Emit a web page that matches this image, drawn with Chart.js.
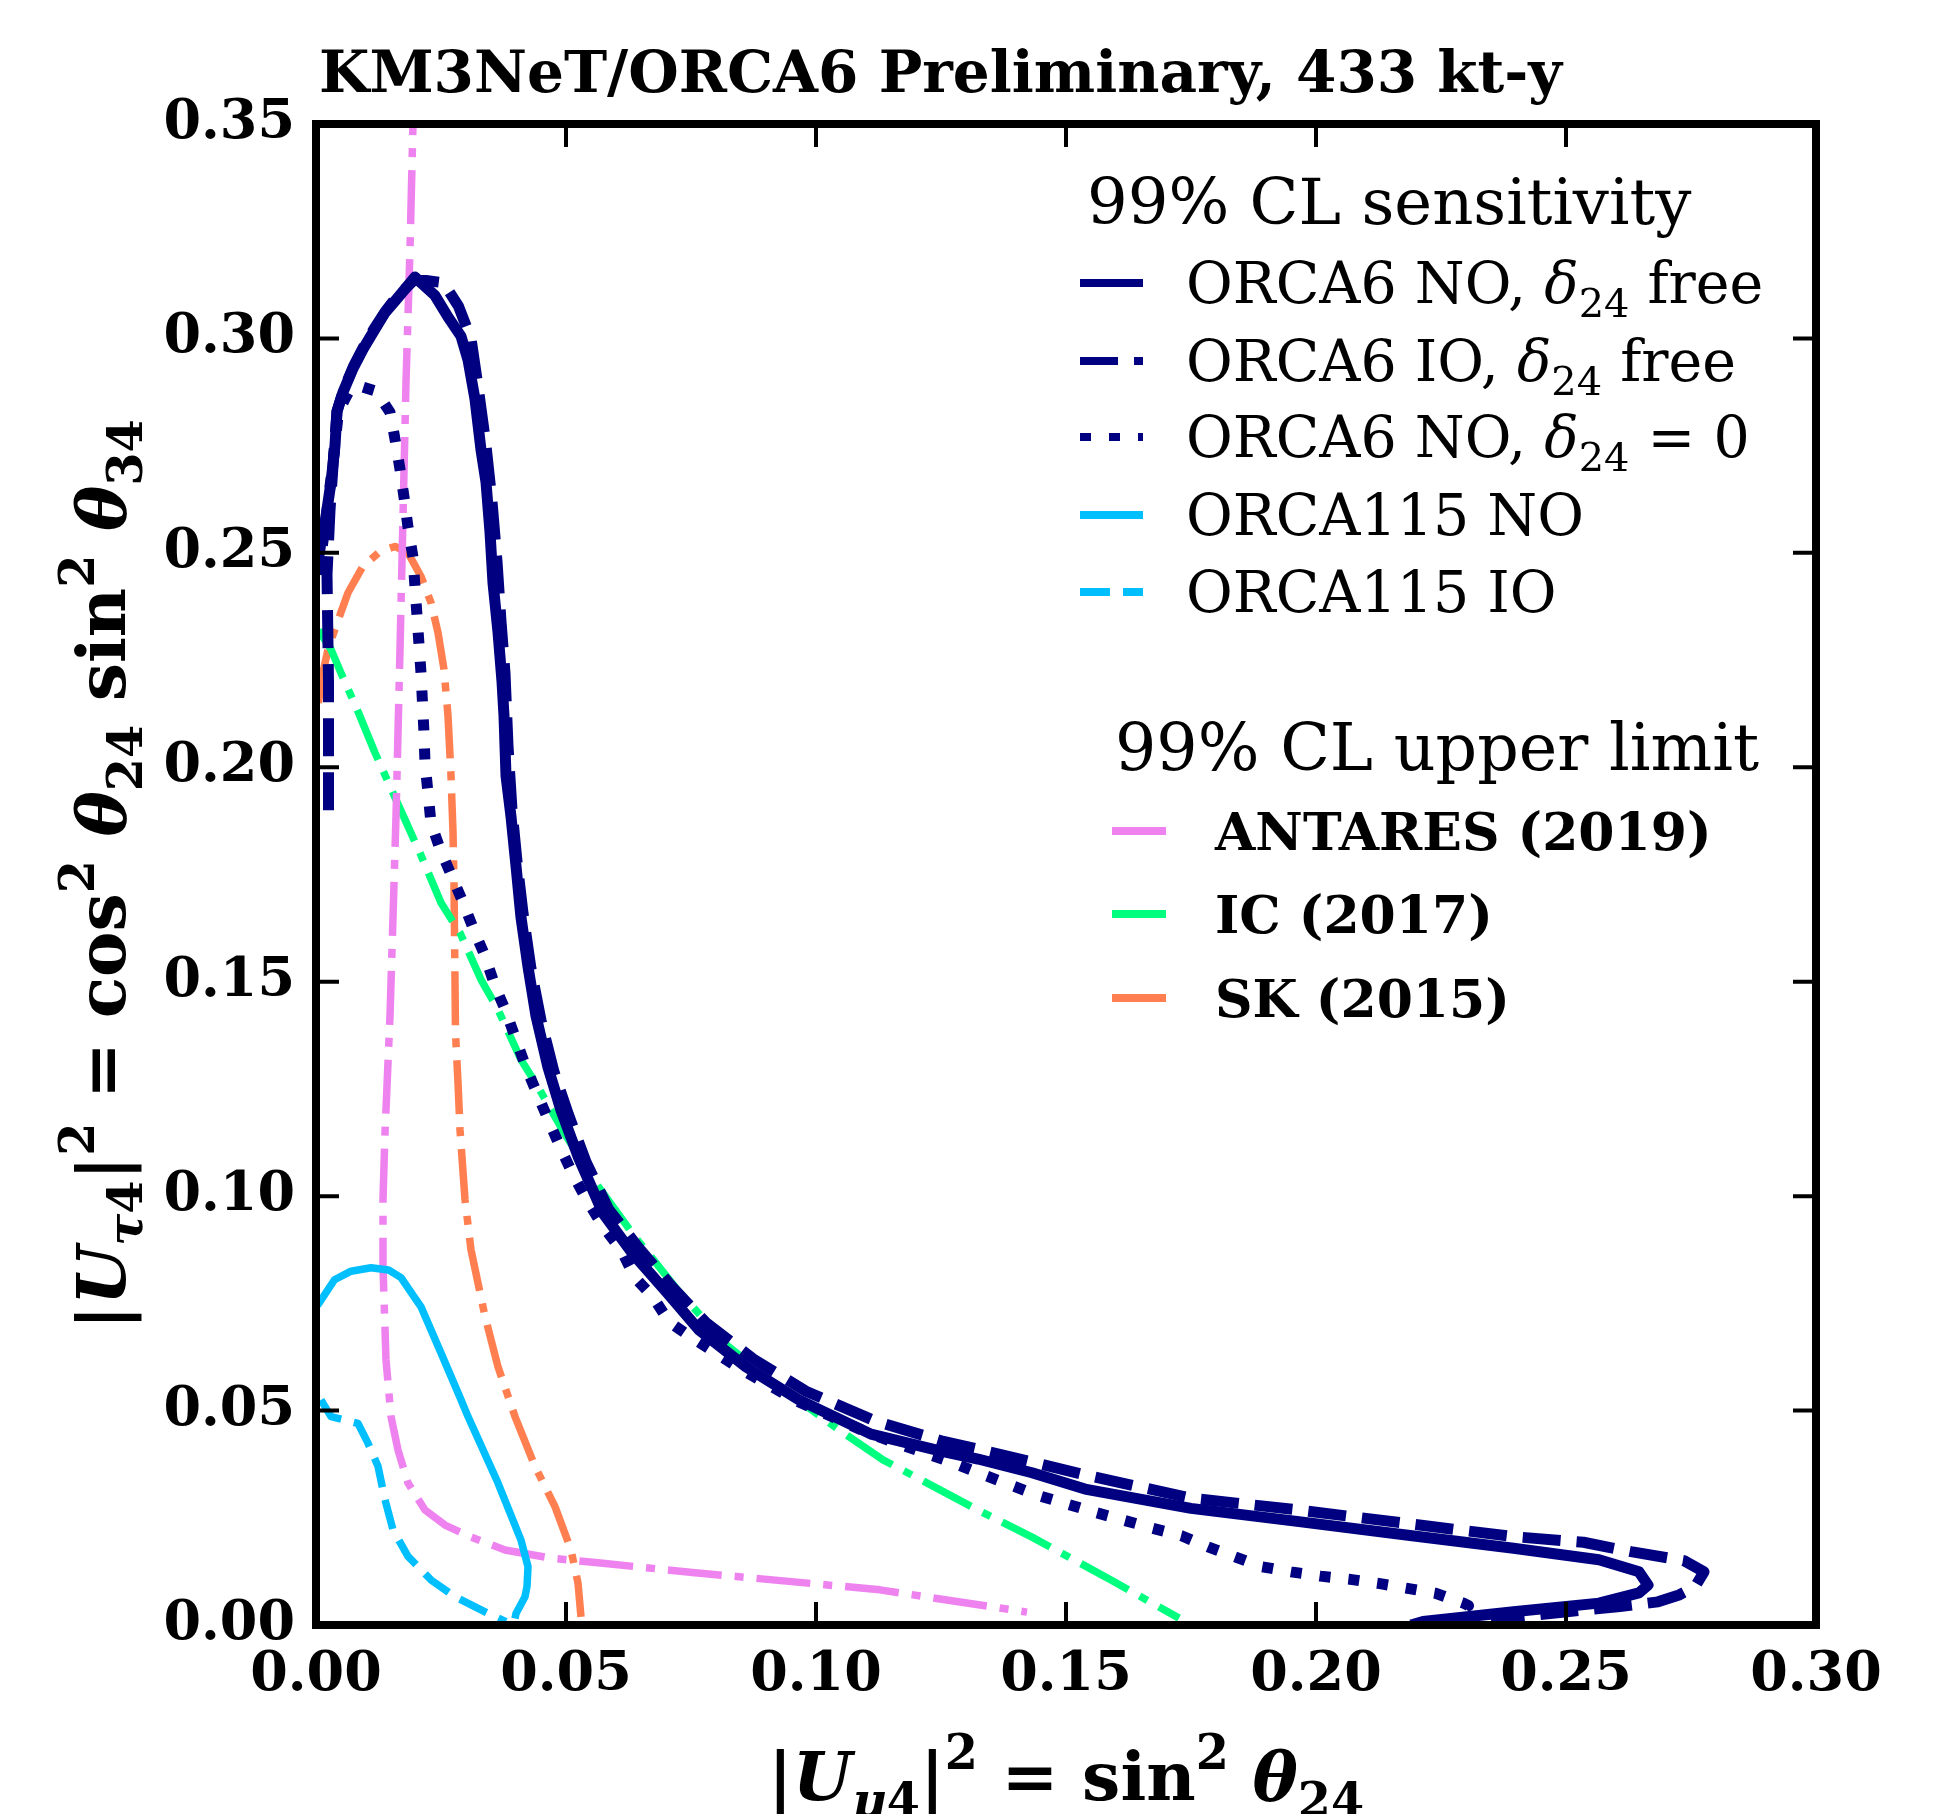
<!DOCTYPE html>
<html>
<head>
<meta charset="utf-8">
<script src="https://cdn.jsdelivr.net/npm/chart.js@4.4.1/dist/chart.umd.min.js"></script>
<style>
  html, body { margin: 0; padding: 0; background: #fff; }
  canvas { display: block; }
</style>
</head>
<body>
<canvas id="chart" width="1951" height="1814"></canvas>
<script>
// values, x = |U_mu4|^2, y = |U_tau4|^2
const orca6NoX = [0.0000,0.0010,0.0020,0.0030,0.0038,0.0042,0.0054,0.0074,0.0094,0.0114,0.0138,0.0160,0.0198,0.0210,0.0238,0.0264,0.0290,0.0304,0.0318,0.0330,0.0340,0.0348,0.0354,0.0364,0.0372,0.0376,0.0380,0.0390,0.0400,0.0410,0.0424,0.0440,0.0464,0.0490,0.0525,0.0574,0.0632,0.0702,0.0766,0.0860,0.0966,0.1110,0.1252,0.1324,0.1432,0.1538,0.1750,0.1966,0.2180,0.2395,0.2566,0.2646,0.2664,0.2646,0.2566,0.2395,0.2214,0.2190];
const orca6NoY = [0.245,0.2525,0.2585,0.2665,0.275,0.283,0.2875,0.293,0.2975,0.3014,0.306,0.309,0.3143,0.313,0.310,0.305,0.3005,0.295,0.2858,0.274,0.2665,0.2548,0.243,0.2315,0.220,0.212,0.198,0.1885,0.177,0.165,0.1535,0.142,0.130,0.120,0.109,0.096,0.0868,0.0775,0.0688,0.0602,0.0525,0.0445,0.0405,0.0387,0.0355,0.0317,0.0272,0.0241,0.021,0.0179,0.0152,0.0124,0.0093,0.0075,0.0051,0.0031,0.0008,0.0];

const orca6IoX = [0.0025,0.0025,0.0022,0.0028,0.0035,0.0042,0.0055,0.0075,0.0095,0.0115,0.0140,0.0160,0.0195,0.0220,0.0255,0.0285,0.0310,0.0325,0.0340,0.0352,0.0362,0.0370,0.0378,0.0384,0.0392,0.0402,0.0414,0.0430,0.0450,0.0476,0.0505,0.0540,0.0585,0.0645,0.0715,0.0780,0.0875,0.0980,0.1120,0.1255,0.1324,0.1432,0.1538,0.1750,0.1966,0.2180,0.2395,0.2535,0.2630,0.2736,0.2776,0.2758,0.2726,0.2684,0.2608,0.2502,0.2350];
const orca6IoY = [0.190,0.220,0.245,0.260,0.272,0.283,0.288,0.2935,0.298,0.302,0.3065,0.3095,0.3135,0.3135,0.313,0.3075,0.300,0.288,0.275,0.262,0.248,0.234,0.222,0.205,0.190,0.178,0.166,0.153,0.141,0.129,0.119,0.108,0.097,0.088,0.0785,0.0705,0.062,0.0545,0.0475,0.0428,0.041,0.038,0.035,0.0296,0.0268,0.0237,0.0206,0.0193,0.0171,0.015,0.0124,0.0089,0.007,0.0054,0.0043,0.0031,0.0012];

const orca6NoZeroX = [0.0005,0.0020,0.0035,0.0045,0.0065,0.0084,0.0120,0.0148,0.0158,0.0168,0.0176,0.0184,0.0194,0.0198,0.0204,0.0210,0.0216,0.0218,0.0224,0.0230,0.0248,0.0270,0.0294,0.0316,0.0338,0.0358,0.0380,0.0400,0.0420,0.0442,0.0466,0.0490,0.0514,0.0542,0.0574,0.0610,0.0638,0.0674,0.0706,0.0752,0.0852,0.0966,0.1110,0.1270,0.1324,0.1442,0.1554,0.1672,0.1731,0.1784,0.1838,0.1891,0.1950,0.2009,0.2065,0.2125,0.2180,0.2239,0.2295,0.2305,0.2292];
const orca6NoZeroY = [0.245,0.258,0.272,0.283,0.2875,0.289,0.2877,0.2828,0.2765,0.2695,0.263,0.256,0.249,0.242,0.232,0.222,0.208,0.201,0.194,0.187,0.181,0.175,0.1685,0.162,0.156,0.149,0.143,0.1365,0.130,0.124,0.1174,0.111,0.105,0.099,0.093,0.0875,0.081,0.0765,0.0707,0.067,0.0595,0.052,0.0445,0.038,0.0355,0.0303,0.0264,0.0226,0.0208,0.0182,0.0159,0.0136,0.0124,0.0114,0.0107,0.0097,0.0086,0.0074,0.0051,0.0045,0.0035];

const orca115NoX = [0.0003,0.0037,0.0070,0.0110,0.0145,0.0170,0.0210,0.0250,0.0290,0.0304,0.0364,0.0410,0.0424,0.0422,0.0418,0.0400,0.0398];
const orca115NoY = [0.0745,0.0805,0.0825,0.0833,0.0828,0.081,0.0742,0.0634,0.0525,0.0486,0.0331,0.0198,0.0136,0.009,0.0066,0.0027,0.0015];

const orca115IoX = [0.0010,0.0030,0.0084,0.0104,0.0124,0.0138,0.0154,0.0184,0.0230,0.0278,0.0344,0.0380];
const orca115IoY = [0.0525,0.0486,0.047,0.0424,0.037,0.0292,0.0222,0.016,0.0105,0.0066,0.0027,0.0008];

const antaresX = [0.0196,0.0188,0.0180,0.0174,0.0168,0.0160,0.0154,0.0148,0.0138,0.0134,0.0134,0.0140,0.0150,0.0164,0.0184,0.0218,0.0258,0.0310,0.0378,0.0470,0.0564,0.0758,0.1128,0.1422];
const antaresY = [0.360,0.3208,0.2898,0.2585,0.2275,0.1885,0.165,0.142,0.1148,0.0992,0.0836,0.0618,0.0486,0.0408,0.0331,0.0268,0.0233,0.0205,0.0175,0.0156,0.0145,0.0122,0.0082,0.0030];

const icX = [0.0005,0.0030,0.0050,0.0084,0.0118,0.0154,0.0178,0.0208,0.0250,0.0288,0.0330,0.0364,0.0410,0.0444,0.0496,0.0566,0.0638,0.0724,0.0824,0.0916,0.1046,0.1134,0.1216,0.1324,0.1432,0.1590,0.1726];
const icY = [0.232,0.2275,0.222,0.213,0.2034,0.194,0.1878,0.180,0.1684,0.1614,0.1505,0.1435,0.1318,0.1255,0.1148,0.102,0.0905,0.078,0.065,0.0565,0.0455,0.0385,0.0335,0.0268,0.0205,0.0105,0.0016];

const skX = [0.0005,0.0010,0.0024,0.0040,0.0064,0.0094,0.0128,0.0158,0.0184,0.0210,0.0230,0.0244,0.0256,0.0264,0.0270,0.0274,0.0276,0.0277,0.0278,0.0279,0.0284,0.0288,0.0298,0.0310,0.0338,0.0364,0.0398,0.0438,0.0478,0.0510,0.0524,0.0530];
const skY = [0.215,0.220,0.2275,0.2329,0.2407,0.2469,0.2503,0.2515,0.250,0.2445,0.2384,0.2314,0.2228,0.212,0.198,0.185,0.173,0.1615,0.150,0.138,0.1265,0.1155,0.0992,0.0875,0.072,0.0602,0.0486,0.037,0.0276,0.0175,0.0098,0.0019];

const xTickLabels = ['0.00','0.05','0.10','0.15','0.20','0.25','0.30'];
const yTickLabels = ['0.00','0.05','0.10','0.15','0.20','0.25','0.30','0.35'];

const sensitivityLabels = ['ORCA6 NO, δ_{24} free', 'ORCA6 IO, δ_{24} free', 'ORCA6 NO, δ_{24} = 0', 'ORCA115 NO', 'ORCA115 IO'];
const limitLabels = ['ANTARES (2019)', 'IC (2017)', 'SK (2015)'];

const titleText = 'KM3NeT/ORCA6 Preliminary, 433 kt-y';
const xTitle = '|U_{μ4}|^{2} = sin^{2} θ_{24}';
const yTitle = '|U_{τ4}|^{2} = cos^{2} θ_{24} sin^{2} θ_{34}';

const serif = "'DejaVu Serif', serif";
const dashDot = [54, 13, 9, 13];

function pts(xs, ys) {
    return xs.map((x, i) => ({x: x, y: ys[i]}));
}

// tiny markup: _{..} subscript, ^{..} superscript, greek/U in italic
const italicChars = 'Uτθμδ';
function parseRich(str) {
    const toks = [];
    const re = /([_^])\{([^}]*)\}/g;
    let last = 0, m;
    while ((m = re.exec(str))) {
        if (m.index > last) toks.push({t: str.slice(last, m.index), mode: 'n'});
        toks.push({t: m[2], mode: m[1] === '_' ? 'sub' : 'sup'});
        last = re.lastIndex;
    }
    if (last < str.length) toks.push({t: str.slice(last), mode: 'n'});
    const runs = [];
    toks.forEach(tok => {
        let buf = '', ital = null;
        for (const ch of tok.t) {
            const it = italicChars.includes(ch);
            if (ital !== null && it !== ital) {
                runs.push({t: buf, mode: tok.mode, italic: ital});
                buf = '';
            }
            buf += ch;
            ital = it;
        }
        if (buf) runs.push({t: buf, mode: tok.mode, italic: ital});
    });
    return runs;
}

function drawRich(ctx, str, x, y, size, weight, align) {
    const runs = parseRich(str);
    const fontFor = r => {
        const s = r.mode === 'n' ? size : size * 0.7;
        return (r.italic ? 'italic ' : '') + weight + ' ' + s + 'px ' + serif;
    };
    let total = 0;
    runs.forEach(r => {
        ctx.font = fontFor(r);
        r.w = ctx.measureText(r.t).width;
        total += r.w;
    });
    let cx = align === 'center' ? x - total / 2 : (align === 'right' ? x - total : x);
    ctx.textAlign = 'left';
    ctx.textBaseline = 'alphabetic';
    ctx.fillStyle = '#000';
    runs.forEach(r => {
        ctx.font = fontFor(r);
        const dy = r.mode === 'sub' ? size * 0.25 : (r.mode === 'sup' ? -size * 0.45 : 0);
        ctx.fillText(r.t, cx, y + dy);
        cx += r.w;
    });
}

const decorations = {
    id: 'decorations',
    afterDraw(chart) {
        const ctx = chart.ctx;
        const a = chart.chartArea;
        const xs = chart.scales.x, ys = chart.scales.y;
        ctx.save();

        // inward ticks on all four sides
        ctx.strokeStyle = '#000';
        ctx.lineWidth = 4;
        ctx.beginPath();
        xs.ticks.forEach(t => {
            const px = xs.getPixelForValue(t.value);
            ctx.moveTo(px, a.bottom); ctx.lineTo(px, a.bottom - 23);
            ctx.moveTo(px, a.top); ctx.lineTo(px, a.top + 23);
        });
        ys.ticks.forEach(t => {
            const py = ys.getPixelForValue(t.value);
            ctx.moveTo(a.left, py); ctx.lineTo(a.left + 23, py);
            ctx.moveTo(a.right, py); ctx.lineTo(a.right - 23, py);
        });
        ctx.stroke();

        ctx.lineWidth = 8;
        ctx.strokeRect(a.left, a.top, a.right - a.left, a.bottom - a.top);

        // title and axis titles
        drawRich(ctx, titleText, 319, 92, 58, 'bold', 'left');
        drawRich(ctx, xTitle, (a.left + a.right) / 2, 1800, 68, 'bold', 'center');
        ctx.save();
        ctx.translate(125, (a.top + a.bottom) / 2);
        ctx.rotate(-Math.PI / 2);
        drawRich(ctx, yTitle, 0, 0, 68, 'bold', 'center');
        ctx.restore();

        // legend
        const ds = chart.data.datasets;
        const handle = (d, x0, x1, yy) => {
            ctx.save();
            ctx.strokeStyle = d.borderColor;
            ctx.lineWidth = 8;
            ctx.setLineDash(d.borderDash || []);
            ctx.beginPath();
            ctx.moveTo(x0, yy); ctx.lineTo(x1, yy);
            ctx.stroke();
            ctx.restore();
        };
        drawRich(ctx, '99% CL sensitivity', 1087, 224, 64, 'normal', 'left');
        const rows1 = [303, 381, 457, 535, 612];
        sensitivityLabels.forEach((lab, i) => {
            handle(ds[i], 1080, 1143, rows1[i] - 20);
            drawRich(ctx, lab, 1186, rows1[i], 57, 'normal', 'left');
        });
        drawRich(ctx, '99% CL upper limit', 1115, 770, 65, 'normal', 'left');
        const rows2 = [850, 933, 1017];
        limitLabels.forEach((lab, i) => {
            handle(ds[5 + i], 1112, 1166, rows2[i] - 19);
            drawRich(ctx, lab, 1215, rows2[i], 52, 'bold', 'left');
        });
        ctx.restore();
    }
};

const tickFont = {family: serif, weight: 'bold', size: 54};

new Chart(document.getElementById('chart'), {
    type: 'scatter',
    data: {
        datasets: [
            {label: 'ORCA6 NO, δ24 free', data: pts(orca6NoX, orca6NoY), borderColor: '#000080', borderWidth: 11},
            {label: 'ORCA6 IO, δ24 free', data: pts(orca6IoX, orca6IoY), borderColor: '#000080', borderWidth: 11, borderDash: [38, 16]},
            {label: 'ORCA6 NO, δ24 = 0', data: pts(orca6NoZeroX, orca6NoZeroY), borderColor: '#000080', borderWidth: 11, borderDash: [11, 18]},
            {label: 'ORCA115 NO', data: pts(orca115NoX, orca115NoY), borderColor: '#00bfff', borderWidth: 7.5},
            {label: 'ORCA115 IO', data: pts(orca115IoX, orca115IoY), borderColor: '#00bfff', borderWidth: 7.5, borderDash: [30, 13]},
            {label: 'ANTARES (2019)', data: pts(antaresX, antaresY), borderColor: '#ee82ee', borderWidth: 7.5, borderDash: dashDot},
            {label: 'IC (2017)', data: pts(icX, icY), borderColor: '#00ff7f', borderWidth: 7.5, borderDash: dashDot},
            {label: 'SK (2015)', data: pts(skX, skY), borderColor: '#ff7f50', borderWidth: 7.5, borderDash: dashDot}
        ].map((d, i) => Object.assign(d, {
            showLine: true, pointRadius: 0, fill: false, tension: 0,
            borderJoinStyle: 'round', order: i
        }))
    },
    options: {
        responsive: false,
        animation: false,
        devicePixelRatio: 1,
        layout: {padding: {top: 124, right: 135, left: 0, bottom: 0}},
        plugins: {
            legend: {display: false},
            tooltip: {enabled: false},
            title: {display: false}
        },
        scales: {
            x: {
                type: 'linear', min: 0, max: 0.3,
                afterFit: s => { s.height = 189; },
                grid: {display: false, drawTicks: false},
                border: {display: false},
                ticks: {stepSize: 0.05, padding: 19, color: '#000', font: tickFont,
                        maxRotation: 0, autoSkip: false,
                        callback: (v, i) => xTickLabels[i]}
            },
            y: {
                type: 'linear', min: 0, max: 0.35,
                afterFit: s => { s.width = 316; },
                grid: {display: false, drawTicks: false},
                border: {display: false},
                ticks: {stepSize: 0.05, padding: 21, color: '#000', font: tickFont,
                        autoSkip: false,
                        callback: (v, i) => yTickLabels[i]}
            }
        }
    },
    plugins: [decorations]
});
</script>
</body>
</html>
